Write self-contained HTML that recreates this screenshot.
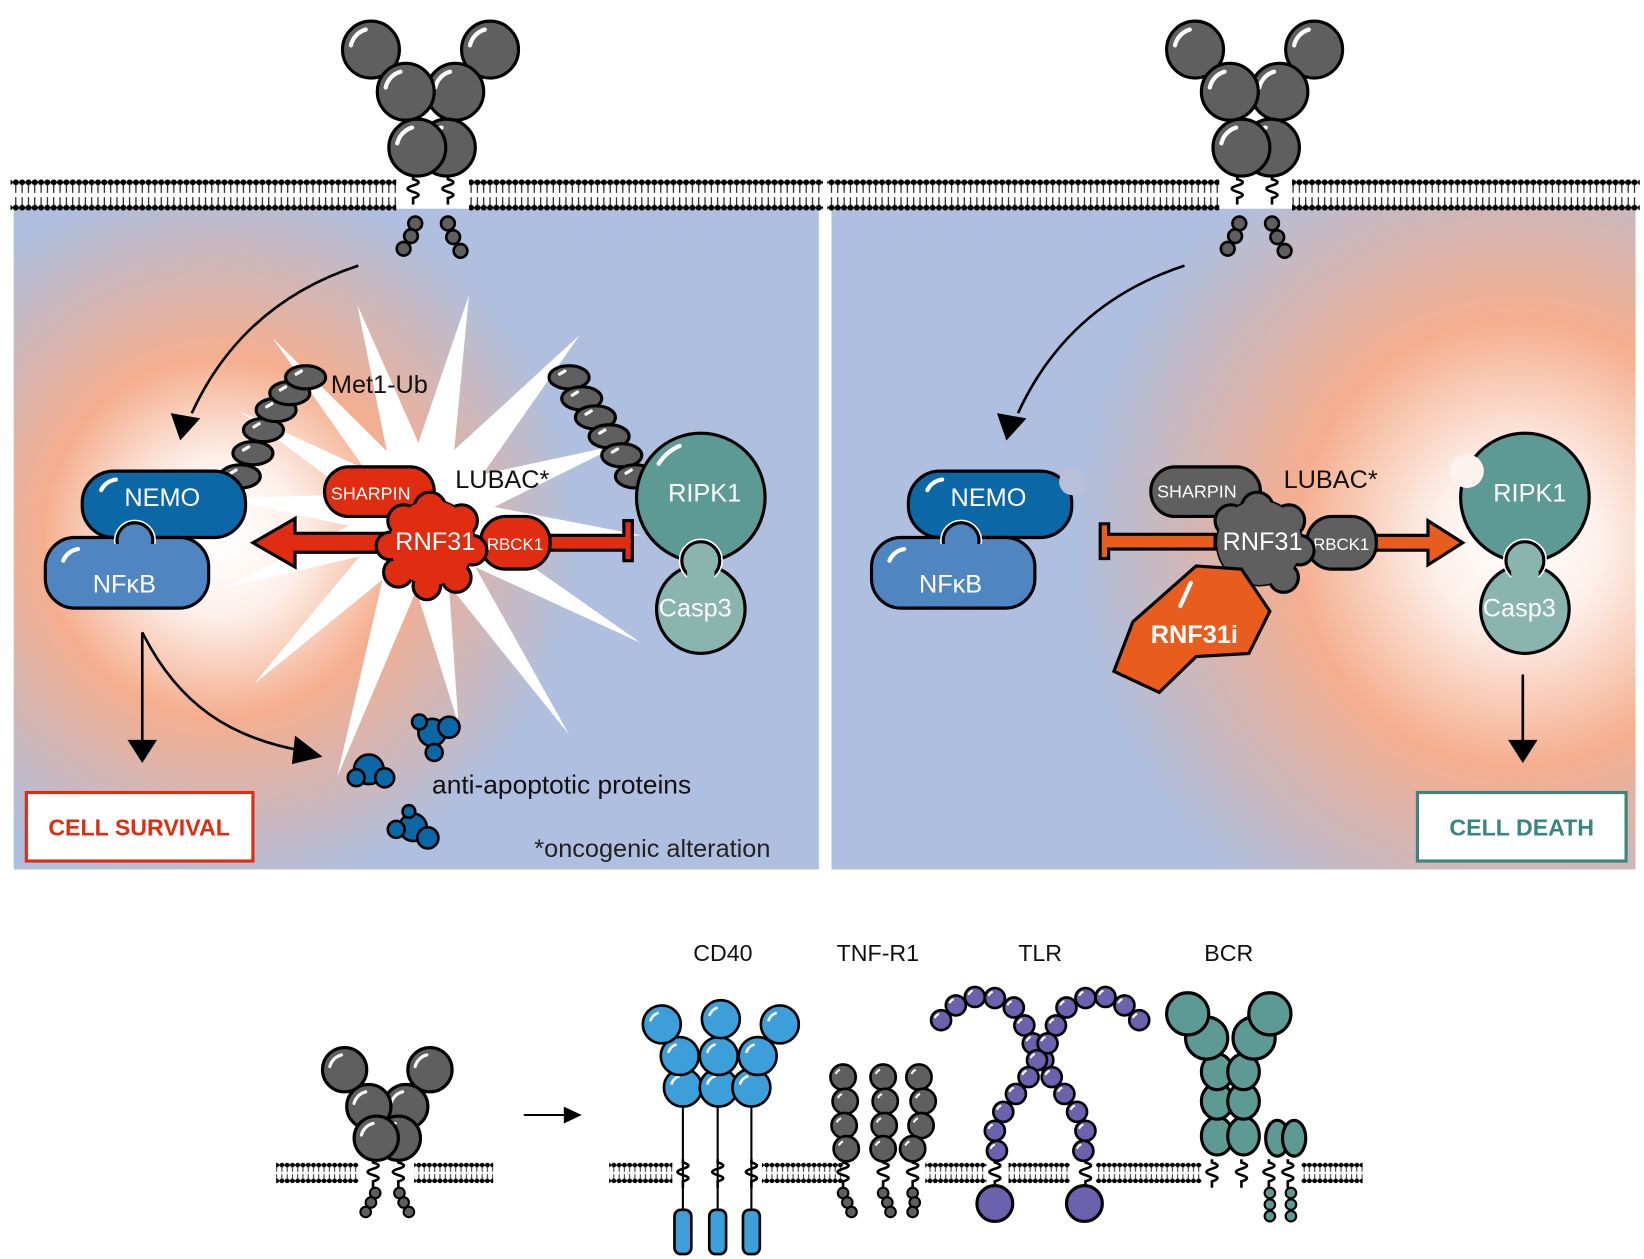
<!DOCTYPE html>
<html><head><meta charset="utf-8"><style>
html,body{margin:0;padding:0;background:#fff;width:1644px;height:1259px;overflow:hidden}
svg{display:block}
text{font-family:"Liberation Sans",sans-serif}
</style></head><body>
<svg width="1644" height="1259" viewBox="0 0 1560 1194.6" xmlns="http://www.w3.org/2000/svg">
<defs>
<pattern id="mem" x="0" y="170" width="6" height="30" patternUnits="userSpaceOnUse">
<circle cx="3" cy="3" r="2.8" fill="#000"/><circle cx="3" cy="27" r="2.8" fill="#000"/>
<line x1="3" y1="5" x2="3" y2="13" stroke="#000" stroke-width="1"/><line x1="3" y1="17" x2="3" y2="25" stroke="#000" stroke-width="1"/>
<line x1="0" y1="3" x2="6" y2="3" stroke="#000" stroke-width="1.5"/><line x1="0" y1="27" x2="6" y2="27" stroke="#000" stroke-width="1.5"/>
</pattern>
<pattern id="mem2" x="0" y="1103" width="5" height="20" patternUnits="userSpaceOnUse">
<circle cx="2.5" cy="2.5" r="2.2" fill="#000"/><circle cx="2.5" cy="17.5" r="2.2" fill="#000"/>
<line x1="2.5" y1="4" x2="2.5" y2="9" stroke="#000" stroke-width="0.8"/><line x1="2.5" y1="11" x2="2.5" y2="16" stroke="#000" stroke-width="0.8"/>
<line x1="0" y1="2.5" x2="5" y2="2.5" stroke="#000" stroke-width="1.2"/><line x1="0" y1="17.5" x2="5" y2="17.5" stroke="#000" stroke-width="1.2"/>
</pattern>
<radialGradient id="gl" cx="210" cy="510" r="340" gradientUnits="userSpaceOnUse">
<stop offset="0" stop-color="#fff"/><stop offset="0.22" stop-color="#fdf0ea"/><stop offset="0.5" stop-color="#f5ae8e"/><stop offset="1" stop-color="#aebfdf"/>
</radialGradient>
<radialGradient id="gr" cx="1440" cy="515" r="440" gradientUnits="userSpaceOnUse">
<stop offset="0" stop-color="#fff"/><stop offset="0.18" stop-color="#fdf0ea"/><stop offset="0.48" stop-color="#f5ae8e"/><stop offset="0.95" stop-color="#aebfdf"/>
</radialGradient>
<g id="ball"><circle r="27" fill="#5f5f5f" stroke="#000" stroke-width="3"/><path d="M-19 -4 A20 20 0 0 1 -5 -19" stroke="#fff" stroke-width="4" fill="none" stroke-linecap="round"/></g>
<g id="sball"><circle r="21" fill="#5f5f5f" stroke="#000" stroke-width="3"/><path d="M-14 -3 A15 15 0 0 1 -3 -14" stroke="#fff" stroke-width="3" fill="none" stroke-linecap="round"/></g>
<g id="tball"><circle r="6.5" fill="#5f5f5f" stroke="#000" stroke-width="2.5"/></g>
<g id="ub"><ellipse rx="19" ry="11" fill="#5f5f5f" stroke="#000" stroke-width="3"/><path d="M-9 -3 L-4 -6" stroke="#fff" stroke-width="3" stroke-linecap="round"/></g>
<g id="sq"><path d="M0 0 l0 3 c7 2 7 4 0 6 c-7 2 -7 4 0 6 c7 2 7 4 0 6 l0 6" stroke="#000" stroke-width="2.5" fill="none"/></g>
<g id="pb"><circle r="9.5" fill="#6c61ac" stroke="#000" stroke-width="2.5"/><path d="M-6 -2 A7 7 0 0 1 -2 -6" stroke="#fff" stroke-width="2" fill="none"/></g>
<g id="gb"><circle r="12" fill="#5f5f5f" stroke="#000" stroke-width="2.5"/><path d="M-7 -3 A8 8 0 0 1 -3 -7" stroke="#fff" stroke-width="2" fill="none"/></g>
<g id="cb"><circle r="18" fill="#3c9fd9" stroke="#000" stroke-width="2.5"/><path d="M-11 -3 A12 12 0 0 1 -3 -11" stroke="#fff" stroke-width="2.5" fill="none"/></g>
</defs>

<rect x="13" y="198" width="764" height="627" fill="url(#gl)"/>
<rect x="789" y="198" width="763" height="627" fill="url(#gr)"/>

<polygon fill="#fff" points="339,289 397,420 445,280 431,427 550,318 458,450 588,422 469,481 609,508 467,511 608,610 451,538 540,697 426,555 435,687 395,560 320,737 363,550 241,649 341,528 212,558 331,499 211,473 333,469 227,390 346,445 259,321 367,428"/>

<rect x="10" y="170" width="366" height="30" fill="url(#mem)"/>
<rect x="445" y="170" width="336" height="30" fill="url(#mem)"/>
<rect x="785" y="170" width="372" height="30" fill="url(#mem)"/>
<rect x="1226" y="170" width="330" height="30" fill="url(#mem)"/>

<g>
<use href="#ball" x="465" y="47"/><use href="#ball" x="352" y="47"/>
<use href="#ball" x="432" y="87"/><use href="#ball" x="385" y="87"/>
<use href="#ball" x="424" y="140"/><use href="#ball" x="396" y="140"/>
<use href="#sq" x="392" y="167"/><use href="#sq" x="425" y="167"/>
<use href="#tball" x="394" y="212"/><use href="#tball" x="390" y="224"/><use href="#tball" x="383" y="236"/>
<use href="#tball" x="425" y="212"/><use href="#tball" x="430" y="225"/><use href="#tball" x="437" y="238"/>
</g>
<g transform="translate(782,0)">
<use href="#ball" x="465" y="47"/><use href="#ball" x="352" y="47"/>
<use href="#ball" x="432" y="87"/><use href="#ball" x="385" y="87"/>
<use href="#ball" x="424" y="140"/><use href="#ball" x="396" y="140"/>
<use href="#sq" x="392" y="167"/><use href="#sq" x="425" y="167"/>
<use href="#tball" x="394" y="212"/><use href="#tball" x="390" y="224"/><use href="#tball" x="383" y="236"/>
<use href="#tball" x="425" y="212"/><use href="#tball" x="430" y="225"/><use href="#tball" x="437" y="238"/>
</g>

<path d="M340 252 C270 275 215 320 182 392" stroke="#000" stroke-width="2.5" fill="none"/>
<polygon points="162,392 190,397 171,418" fill="#000"/>
<path d="M1124 252 C1054 275 999 320 966 392" stroke="#000" stroke-width="2.5" fill="none"/>
<polygon points="946,392 974,397 955,418" fill="#000"/>

<use href="#ub" x="228" y="452"/><use href="#ub" x="240" y="430" /><use href="#ub" x="250" y="408"/><use href="#ub" x="262" y="389"/><use href="#ub" x="275" y="373"/><use href="#ub" x="290" y="358"/>
<use href="#ub" x="540" y="358"/><use href="#ub" x="552" y="378"/><use href="#ub" x="565" y="396"/><use href="#ub" x="578" y="414"/><use href="#ub" x="590" y="432"/><use href="#ub" x="603" y="452"/>
<text x="314" y="373" font-size="24" fill="#111">Met1-Ub</text>

<rect x="78" y="447" width="155" height="63" rx="30" fill="#0b67a6" stroke="#000" stroke-width="3"/>
<path d="M96 465 A18 18 0 0 1 110 455" stroke="#fff" stroke-width="4" fill="none" stroke-linecap="round"/>
<text x="118" y="480" font-size="24" fill="#fff">NEMO</text>
<rect x="43" y="510" width="155" height="67" rx="28" fill="#4f86c1" stroke="#000" stroke-width="3"/>
<circle cx="128" cy="513" r="17" fill="#4f86c1" stroke="#fff" stroke-width="6"/>
<circle cx="128" cy="513" r="17" fill="#4f86c1" stroke="#000" stroke-width="3"/>
<rect x="46" y="516" width="149" height="58" rx="26" fill="#4f86c1"/>
<path d="M60 532 A18 18 0 0 1 74 521" stroke="#fff" stroke-width="4" fill="none" stroke-linecap="round"/>
<text x="88" y="562" font-size="24" fill="#fff">NFκB</text>

<rect x="862" y="447" width="155" height="63" rx="30" fill="#0b67a6" stroke="#000" stroke-width="3"/>
<circle cx="1018" cy="457" r="13" fill="#b9bfd9"/>
<path d="M880 465 A18 18 0 0 1 894 455" stroke="#fff" stroke-width="4" fill="none" stroke-linecap="round"/>
<text x="902" y="480" font-size="24" fill="#fff">NEMO</text>
<rect x="827" y="510" width="155" height="67" rx="28" fill="#4f86c1" stroke="#000" stroke-width="3"/>
<circle cx="912" cy="513" r="17" fill="#4f86c1" stroke="#fff" stroke-width="6"/>
<circle cx="912" cy="513" r="17" fill="#4f86c1" stroke="#000" stroke-width="3"/>
<rect x="830" y="516" width="149" height="58" rx="26" fill="#4f86c1"/>
<path d="M844 532 A18 18 0 0 1 858 521" stroke="#fff" stroke-width="4" fill="none" stroke-linecap="round"/>
<text x="872" y="562" font-size="24" fill="#fff">NFκB</text>

<path d="M365 506 L280 506 L280 492 L240 515 L280 538 L280 524 L365 524 Z" fill="#e02d12" stroke="#000" stroke-width="3"/>
<path d="M515 508 L592 508 L592 494 L600 494 L600 532 L592 532 L592 522 L515 522 Z" fill="#e02d12" stroke="#000" stroke-width="3"/>
<rect x="308" y="443" width="104" height="47" rx="23" fill="#e02d12" stroke="#000" stroke-width="3"/>
<text x="314" y="474" font-size="17" fill="#fff">SHARPIN</text>
<rect x="456" y="490" width="66" height="50" rx="24" fill="#e02d12" stroke="#000" stroke-width="3"/>
<text x="462" y="522" font-size="16" fill="#fff">RBCK1</text>
<g fill="#e02d12" stroke="#000" stroke-width="3">
<circle cx="410" cy="515" r="40"/><circle cx="383" cy="494" r="15"/><circle cx="408" cy="482" r="15"/><circle cx="438" cy="494" r="15"/><circle cx="448" cy="522" r="14"/><circle cx="433" cy="548" r="14"/><circle cx="405" cy="556" r="13"/><circle cx="378" cy="543" r="14"/><circle cx="370" cy="518" r="13"/>
</g>
<g fill="#e02d12"><circle cx="410" cy="515" r="40"/><circle cx="383" cy="494" r="12"/><circle cx="408" cy="482" r="12"/><circle cx="438" cy="494" r="12"/><circle cx="448" cy="522" r="11"/><circle cx="433" cy="548" r="11"/><circle cx="405" cy="556" r="10"/><circle cx="378" cy="543" r="11"/><circle cx="370" cy="518" r="10"/></g>
<text x="375" y="522" font-size="24" fill="#fff">RNF31</text>
<text x="432" y="463" font-size="24" fill="#111">LUBAC*</text>

<path d="M1153 507 L1052 507 L1052 497 L1044 497 L1044 530 L1052 530 L1052 521 L1153 521 Z" fill="#e85c1e" stroke="#000" stroke-width="3"/>
<path d="M1300 508 L1355 508 L1355 494 L1388 515 L1355 536 L1355 522 L1300 522 Z" fill="#e85c1e" stroke="#000" stroke-width="3"/>
<rect x="1092" y="443" width="104" height="47" rx="23" fill="#5f5f5f" stroke="#000" stroke-width="3"/>
<text x="1098" y="472" font-size="17" fill="#fff">SHARPIN</text>
<rect x="1240" y="490" width="66" height="50" rx="24" fill="#5f5f5f" stroke="#000" stroke-width="3"/>
<text x="1246" y="522" font-size="16" fill="#fff">RBCK1</text>
<g fill="#5f5f5f" stroke="#000" stroke-width="3">
<circle cx="1195" cy="515" r="40"/><circle cx="1168" cy="494" r="15"/><circle cx="1193" cy="482" r="15"/><circle cx="1223" cy="494" r="15"/><circle cx="1233" cy="522" r="14"/><circle cx="1218" cy="548" r="14"/>
</g>
<g fill="#5f5f5f"><circle cx="1195" cy="515" r="40"/><circle cx="1168" cy="494" r="12"/><circle cx="1193" cy="482" r="12"/><circle cx="1223" cy="494" r="12"/><circle cx="1233" cy="522" r="11"/><circle cx="1218" cy="548" r="11"/></g>
<text x="1160" y="522" font-size="24" fill="#fff">RNF31</text>
<text x="1218" y="463" font-size="24" fill="#111">LUBAC*</text>
<polygon points="1075,590 1135,537 1178,540 1205,580 1185,620 1135,623 1100,657 1057,637" fill="#e85c1e" stroke="#000" stroke-width="3"/>
<path d="M1120 575 L1130 553" stroke="#fff" stroke-width="4" stroke-linecap="round"/>
<text x="1092" y="610" font-size="24" fill="#fff" font-weight="bold">RNF31i</text>

<circle cx="665" cy="472" r="61" fill="#5d9a93" stroke="#000" stroke-width="3"/>
<path d="M625 440 A45 45 0 0 1 645 423" stroke="#fff" stroke-width="4" fill="none" stroke-linecap="round"/>
<text x="634" y="476" font-size="24" fill="#fff">RIPK1</text>
<circle cx="665" cy="578" r="42" fill="#8ab5ae" stroke="#000" stroke-width="3"/>
<circle cx="665" cy="532" r="18" fill="#8ab5ae" stroke="#fff" stroke-width="6"/>
<circle cx="665" cy="532" r="18" fill="#8ab5ae" stroke="#000" stroke-width="3"/>
<rect x="652" y="538" width="26" height="22" fill="#8ab5ae"/>
<text x="625" y="585" font-size="24" fill="#fff">Casp3</text>
<circle cx="1447" cy="472" r="61" fill="#5d9a93" stroke="#000" stroke-width="3"/>
<circle cx="1392" cy="447" r="16" fill="#fdf3ee"/>
<text x="1417" y="476" font-size="24" fill="#fff">RIPK1</text>
<circle cx="1447" cy="578" r="42" fill="#8ab5ae" stroke="#000" stroke-width="3"/>
<circle cx="1447" cy="532" r="18" fill="#8ab5ae" stroke="#fff" stroke-width="6"/>
<circle cx="1447" cy="532" r="18" fill="#8ab5ae" stroke="#000" stroke-width="3"/>
<rect x="1434" y="538" width="26" height="22" fill="#8ab5ae"/>
<text x="1407" y="585" font-size="24" fill="#fff">Casp3</text>

<line x1="135" y1="600" x2="135" y2="705" stroke="#000" stroke-width="2.5"/>
<polygon points="121,702 149,702 135,724" fill="#000"/>
<path d="M135 600 C170 670 220 700 285 712" stroke="#000" stroke-width="2.5" fill="none"/>
<polygon points="280,698 306,718 277,725" fill="#000"/>
<line x1="1445" y1="640" x2="1445" y2="705" stroke="#000" stroke-width="2.5"/>
<polygon points="1431,702 1459,702 1445,724" fill="#000"/>

<g fill="#0b67a6" stroke="#000" stroke-width="2.5">
<circle cx="350" cy="730" r="14"/><circle cx="365" cy="738" r="9"/><circle cx="338" cy="738" r="8"/>
<circle cx="410" cy="695" r="13"/><circle cx="426" cy="690" r="10"/><circle cx="412" cy="714" r="8"/><circle cx="398" cy="685" r="7"/>
<circle cx="392" cy="785" r="13"/><circle cx="406" cy="795" r="10"/><circle cx="376" cy="787" r="8"/><circle cx="388" cy="770" r="6"/>
</g>
<text x="410" y="753" font-size="25" fill="#111">anti-apoptotic proteins</text>
<text x="507" y="813" font-size="24" fill="#222">*oncogenic alteration</text>

<rect x="25" y="752" width="215" height="65" fill="#fff" stroke="#e02d12" stroke-width="3"/>
<text x="132" y="793" font-size="22" fill="#e02d12" font-weight="bold" text-anchor="middle">CELL SURVIVAL</text>
<rect x="1345" y="752" width="198" height="65" fill="#fff" stroke="#3a8580" stroke-width="3"/>
<text x="1444" y="793" font-size="22" fill="#3a8580" font-weight="bold" text-anchor="middle">CELL DEATH</text>

<g font-size="22" fill="#111" text-anchor="middle">
<text x="686" y="912">CD40</text><text x="833" y="912">TNF-R1</text><text x="987" y="912">TLR</text><text x="1166" y="912">BCR</text>
</g>

<rect x="262" y="1103" width="78" height="20" fill="url(#mem2)"/>
<rect x="393" y="1103" width="75" height="20" fill="url(#mem2)"/>
<rect x="578" y="1103" width="60" height="20" fill="url(#mem2)"/>
<rect x="723" y="1103" width="77" height="20" fill="url(#mem2)"/>
<rect x="878" y="1103" width="58" height="20" fill="url(#mem2)"/>
<rect x="957" y="1103" width="58" height="20" fill="url(#mem2)"/>
<rect x="1040" y="1103" width="100" height="20" fill="url(#mem2)"/>
<rect x="1235" y="1103" width="58" height="20" fill="url(#mem2)"/>

<use href="#sball" x="408" y="1015"/><use href="#sball" x="327" y="1015"/>
<use href="#sball" x="385" y="1050"/><use href="#sball" x="350" y="1050"/>
<use href="#sball" x="378" y="1080"/><use href="#sball" x="357" y="1080"/>
<use href="#sq" x="354" y="1100"/><use href="#sq" x="378" y="1100"/>
<g fill="#5f5f5f" stroke="#000" stroke-width="2"><circle cx="356" cy="1132" r="5"/><circle cx="352" cy="1141" r="5"/><circle cx="347" cy="1150" r="5"/><circle cx="379" cy="1132" r="5"/><circle cx="383" cy="1141" r="5"/><circle cx="388" cy="1150" r="5"/></g>
<line x1="497" y1="1058" x2="537" y2="1058" stroke="#000" stroke-width="2"/>
<polygon points="535,1050 552,1058 535,1066" fill="#000"/>

<g stroke="#000" stroke-width="2"><line x1="648" y1="1050" x2="648" y2="1150"/><line x1="681" y1="1050" x2="681" y2="1150"/><line x1="713" y1="1050" x2="713" y2="1150"/></g>
<use href="#sq" x="648" y="1100"/><use href="#sq" x="681" y="1100"/><use href="#sq" x="713" y="1100"/>
<g fill="#3c9fd9" stroke="#000" stroke-width="2.5"><rect x="640" y="1148" width="16" height="42" rx="6"/><rect x="673" y="1148" width="16" height="42" rx="6"/><rect x="705" y="1148" width="16" height="42" rx="6"/></g>
<use href="#cb" x="648" y="1032"/><use href="#cb" x="682" y="1032"/><use href="#cb" x="713" y="1032"/>
<use href="#cb" x="645" y="1002"/><use href="#cb" x="719" y="1002"/><use href="#cb" x="682" y="1002"/>
<use href="#cb" x="628" y="972"/><use href="#cb" x="740" y="972"/><use href="#cb" x="684" y="967"/>

<use href="#sq" x="800" y="1100"/><use href="#sq" x="838" y="1100"/><use href="#sq" x="866" y="1100"/>
<g fill="#5f5f5f" stroke="#000" stroke-width="2"><circle cx="800" cy="1132" r="5"/><circle cx="804" cy="1141" r="5"/><circle cx="808" cy="1150" r="5"/><circle cx="838" cy="1132" r="5"/><circle cx="842" cy="1141" r="5"/><circle cx="845" cy="1150" r="5"/><circle cx="866" cy="1132" r="5"/><circle cx="868" cy="1141" r="5"/><circle cx="866" cy="1150" r="5"/></g>
<use href="#gb" x="800" y="1022"/><use href="#gb" x="802" y="1045"/><use href="#gb" x="801" y="1068"/><use href="#gb" x="803" y="1090"/>
<use href="#gb" x="838" y="1022"/><use href="#gb" x="840" y="1045"/><use href="#gb" x="839" y="1068"/><use href="#gb" x="838" y="1090"/>
<use href="#gb" x="872" y="1022"/><use href="#gb" x="876" y="1045"/><use href="#gb" x="874" y="1068"/><use href="#gb" x="866" y="1090"/>

<use href="#sq" x="944" y="1100"/><use href="#sq" x="1030" y="1100"/>
<circle cx="944" cy="1142" r="17" fill="#6c61ac" stroke="#000" stroke-width="3"/>
<circle cx="1029" cy="1142" r="17" fill="#6c61ac" stroke="#000" stroke-width="3"/>
<use href="#pb" x="893" y="968"/><use href="#pb" x="907" y="954"/><use href="#pb" x="925" y="946"/><use href="#pb" x="944" y="947"/><use href="#pb" x="962" y="956"/><use href="#pb" x="972" y="973"/><use href="#pb" x="980" y="990"/><use href="#pb" x="990" y="1006"/><use href="#pb" x="998" y="1022"/><use href="#pb" x="1010" y="1038"/><use href="#pb" x="1022" y="1055"/><use href="#pb" x="1030" y="1073"/><use href="#pb" x="1028" y="1092"/>
<use href="#pb" x="1081" y="968"/><use href="#pb" x="1067" y="954"/><use href="#pb" x="1049" y="946"/><use href="#pb" x="1030" y="947"/><use href="#pb" x="1012" y="956"/><use href="#pb" x="1002" y="973"/><use href="#pb" x="994" y="990"/><use href="#pb" x="984" y="1006"/><use href="#pb" x="976" y="1022"/><use href="#pb" x="964" y="1038"/><use href="#pb" x="952" y="1055"/><use href="#pb" x="944" y="1073"/><use href="#pb" x="946" y="1092"/>

<use href="#sq" x="1150" y="1100"/><use href="#sq" x="1178" y="1100"/><use href="#sq" x="1204" y="1100"/><use href="#sq" x="1222" y="1100"/>
<g fill="#5d9a93" stroke="#000" stroke-width="2"><circle cx="1205" cy="1132" r="5"/><circle cx="1205" cy="1143" r="5"/><circle cx="1205" cy="1154" r="5"/><circle cx="1225" cy="1132" r="5"/><circle cx="1225" cy="1143" r="5"/><circle cx="1225" cy="1154" r="5"/></g>
<g fill="#5d9a93" stroke="#000" stroke-width="3">
<ellipse cx="1212" cy="1080" rx="11" ry="17"/><ellipse cx="1228" cy="1080" rx="11" ry="17"/>
<ellipse cx="1155" cy="1078" rx="15" ry="18"/><ellipse cx="1180" cy="1078" rx="15" ry="18"/>
<ellipse cx="1155" cy="1045" rx="15" ry="17"/><ellipse cx="1180" cy="1045" rx="15" ry="17"/>
<ellipse cx="1155" cy="1017" rx="15" ry="17"/><ellipse cx="1180" cy="1017" rx="15" ry="17"/>
<circle cx="1145" cy="985" r="20"/><circle cx="1190" cy="985" r="20"/>
<circle cx="1127" cy="962" r="20"/><circle cx="1205" cy="962" r="20"/>
</g>
</svg>
</body></html>
